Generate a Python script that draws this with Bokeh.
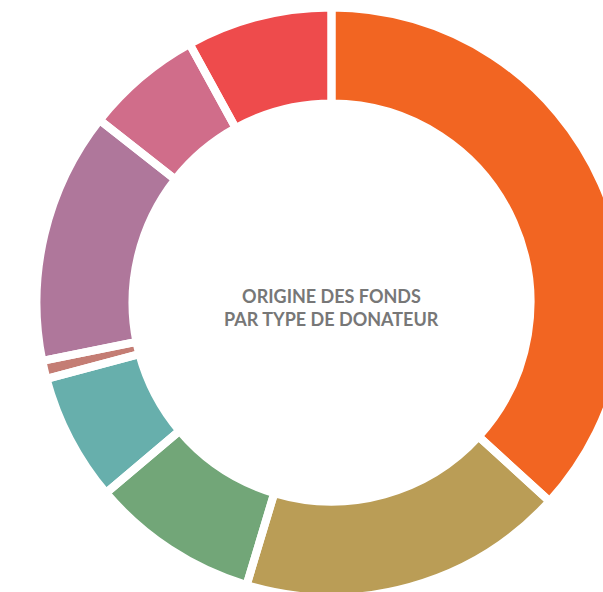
import numpy as np
from bokeh.plotting import figure
from bokeh.models import Range1d, ColumnDataSource
from bokeh.core.properties import value
from bokeh.embed import file_html
from bokeh.resources import INLINE

# Data (share of funds by donor type, clockwise from 12 o'clock)
categories = ["Type A", "Type B", "Type C", "Type D", "Type E", "Type F", "Type G", "Type H"]
shares = [36.8, 17.9, 9.2, 7.0, 1.0, 13.8, 6.4, 8.0]
colors = ["#F26522", "#BA9D56", "#72A678", "#67AFAC", "#C47D74", "#AF779B", "#D06D8A", "#EE4B4C"]
title_lines = ["ORIGINE DES FONDS", "PAR TYPE DE DONATEUR"]

W, H = 603, 592
cx, cy = 331, -302
gap = 8
r_out = 291 + gap / 2
r_in = 203 - gap / 2

vals = np.array(shares, dtype=float)
frac = vals / vals.sum() * 2 * np.pi
cum_end = np.cumsum(frac)
cum_start = cum_end - frac
start = np.pi / 2 - cum_end
end = np.pi / 2 - cum_start

src = ColumnDataSource(dict(cat=categories, start=start, end=end, color=colors,
                            x=[cx] * len(vals), y=[cy] * len(vals)))

p = figure(width=W, height=H, x_range=Range1d(0, W), y_range=Range1d(-H, 0),
           output_backend="svg", toolbar_location=None, min_border=0)
p.axis.visible = False
p.grid.visible = False
p.outline_line_color = None
p.background_fill_color = "white"
p.border_fill_color = "white"

p.annular_wedge(x="x", y="y", inner_radius=r_in, outer_radius=r_out,
                start_angle="start", end_angle="end", direction="anticlock",
                fill_color="color", line_color=None, source=src)
p.annular_wedge(x="x", y="y", inner_radius=r_in, outer_radius=r_out,
                start_angle="start", end_angle="end", direction="anticlock",
                fill_alpha=0, line_color="white", line_width=gap, source=src)

p.text(x=[cx, cx], y=[-295, -318], text=title_lines,
       text_font=value("Lato"), text_font_style="bold", text_font_size="18px",
       text_color="#777777", text_align="center", text_baseline="middle")

open("out.html", "w").write(file_html(p, INLINE))
